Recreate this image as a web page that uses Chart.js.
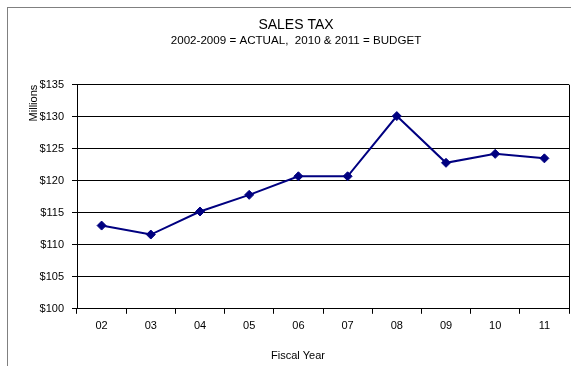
<!DOCTYPE html>
<html>
<head>
<meta charset="utf-8">
<script src="https://cdn.jsdelivr.net/npm/chart.js@4"></script>
<style>
  html, body { margin: 0; padding: 0; background: #fff; width: 571px; height: 366px; overflow: hidden; }
  #frame { position: absolute; left: 7px; top: 7px; width: 600px; height: 400px; border: 1px solid #808080; box-sizing: border-box; }
  #box { position: absolute; left: 0; top: 0; width: 580px; height: 358px; }
</style>
</head>
<body>
<div id="frame"><div id="box"><canvas id="c"></canvas></div></div>
<script>
// Fiscal years (two-digit) and sales tax revenue in millions of dollars
const fiscalYears = ['02', '03', '04', '05', '06', '07', '08', '09', '10', '11'];
const salesTax = [113.0, 111.6, 115.2, 117.8, 120.7, 120.7, 130.1, 122.8, 124.2, 123.5];
const yMin = 100, yMax = 135, yStep = 5;
const xAxisTitle = 'Fiscal Year';

const FONT = 'Liberation Sans, Arial, sans-serif';
const PAD = { left: 15, right: 19, top: 0, bottom: 27 };

// Close the plot area on the right-hand side and centre the x-axis title
// under the whole chart, in line with the headings above it
const plotFrame = {
  id: 'plotFrame',
  afterDatasetsDraw(chart) {
    const { ctx, chartArea: a } = chart;
    ctx.save();
    ctx.strokeStyle = '#000';
    ctx.lineWidth = 1;
    ctx.beginPath();
    ctx.moveTo(Math.round(a.right) + 0.5, a.top);
    ctx.lineTo(Math.round(a.right) + 0.5, a.bottom);
    ctx.stroke();

    ctx.fillStyle = '#000';
    ctx.font = '11px ' + FONT;
    ctx.textAlign = 'center';
    ctx.textBaseline = 'middle';
    const cx = (PAD.left + chart.width - PAD.right) / 2 + 2;
    ctx.fillText(xAxisTitle, cx, a.bottom + 47.5);
    ctx.restore();
  }
};

new Chart(document.getElementById('c'), {
  type: 'line',
  data: {
    labels: fiscalYears,
    datasets: [{
      data: salesTax,
      borderColor: '#000080',
      backgroundColor: '#000080',
      borderWidth: 2,
      pointStyle: 'rectRot',
      pointRadius: 4.5,
      pointBorderWidth: 1,
      pointBackgroundColor: '#000080',
      pointBorderColor: '#000080',
      tension: 0
    }]
  },
  options: {
    responsive: true,
    maintainAspectRatio: false,
    animation: false,
    layout: { padding: PAD },
    plugins: {
      legend: { display: false },
      tooltip: { enabled: false },
      title: {
        display: true,
        text: 'SALES TAX',
        color: '#000',
        font: { family: FONT, size: 14, weight: 'normal' },
        padding: { top: 9, bottom: 0 }
      },
      subtitle: {
        display: true,
        text: '2002-2009 = ACTUAL,  2010 & 2011 = BUDGET',
        color: '#000',
        font: { family: FONT, size: 11.6, weight: 'normal' },
        padding: { top: 0, bottom: 37 }
      }
    },
    scales: {
      x: {
        offset: true,
        grid: {
          offset: true,
          drawOnChartArea: false,
          drawTicks: true,
          tickLength: 5,
          color: '#000'
        },
        border: { display: true, color: '#000', width: 1 },
        ticks: {
          color: '#000',
          padding: 6,
          maxRotation: 0,
          font: { family: FONT, size: 11 }
        },
        title: { display: false }
      },
      y: {
        min: yMin,
        max: yMax,
        afterFit(scale) { scale.width = 54; },
        grid: {
          drawOnChartArea: true,
          drawTicks: true,
          tickLength: 5,
          color: '#000',
          lineWidth: 1
        },
        border: { display: true, color: '#000', width: 1 },
        ticks: {
          stepSize: yStep,
          color: '#000',
          padding: 8,
          font: { family: FONT, size: 11 },
          callback: v => '$' + v
        },
        title: {
          display: true,
          text: 'Millions',
          align: 'end',
          color: '#000',
          font: { family: FONT, size: 11 },
          padding: { top: 4, bottom: 0 }
        }
      }
    }
  },
  plugins: [plotFrame]
});
</script>
</body>
</html>
